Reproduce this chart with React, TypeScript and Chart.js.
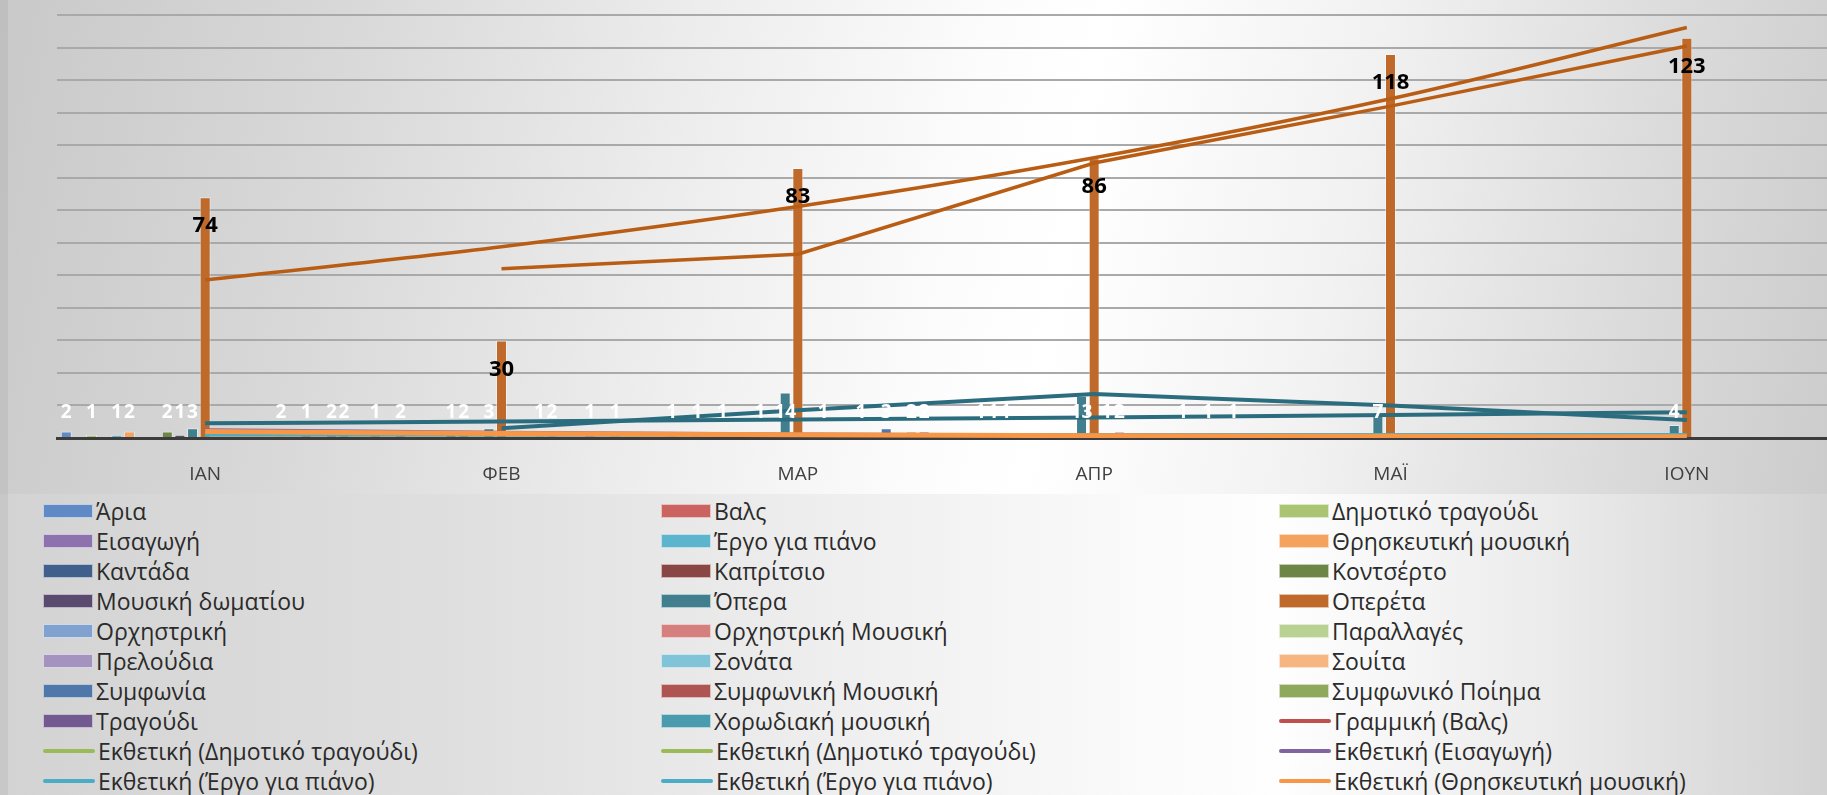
import React, { useEffect, useRef } from "react";
import { Chart, registerables } from "chart.js";

Chart.register(...registerables);

// ---- data -------------------------------------------------------------
const months = ["ΙΑΝ", "ΦΕΒ", "ΜΑΡ", "ΑΠΡ", "ΜΑΪ", "ΙΟΥΝ"];

// performances per genre and month (null = none)
const aria = [2, null, null, null, null, null];
const vals = [null, 1, 1, null, null, null];
const dimotiko = [1, null, null, 1, null, null];
const eisagogi = [null, 2, 1, 1, null, null];
const ergoPiano = [1, null, null, 1, null, null];
const thriskeftiki = [2, null, 1, null, null, null];
const kantada = [null, null, null, null, null, null];
const kapritsio = [null, 1, null, null, null, null];
const kontserto = [2, 2, 1, null, null, null];
const mousikiDomatiou = [1, null, null, null, null, null];
const opera = [3, 3, 14, 13, 7, 4];
const opereta = [74, 30, 83, 86, 118, 123];
const orchistriki = [null, null, null, 1, null, null];
const orchistrikiMousiki = [null, null, 1, 2, null, null];
const parallages = [null, 1, null, null, null, null];
const preloudia = [null, 2, null, null, null, null];
const sonata = [null, null, 1, null, null, null];
const souita = [2, null, null, null, null, null];
const symfonia = [null, 1, 3, 1, null, null];
const symfonikiMousiki = [1, null, null, null, null, null];
const symfonikoPoiima = [null, 1, 2, 1, null, null];
const tragoudi = [2, null, 2, null, null, null];
const chorodiaki = [2, null, null, 1, null, null];

type Num = number | null;

const genres: { name: string; color: string; data: Num[] }[] = [
  { name: "Άρια", color: "#5f8ac6", data: aria },
  { name: "Βαλς", color: "#cb6461", data: vals },
  { name: "Δημοτικό τραγούδι", color: "#a9c574", data: dimotiko },
  { name: "Εισαγωγή", color: "#8d72ae", data: eisagogi },
  { name: "Έργο για πιάνο", color: "#5cb4cd", data: ergoPiano },
  { name: "Θρησκευτική μουσική", color: "#f6a25f", data: thriskeftiki },
  { name: "Καντάδα", color: "#405f8a", data: kantada },
  { name: "Καπρίτσιο", color: "#8a4645", data: kapritsio },
  { name: "Κοντσέρτο", color: "#6e8548", data: kontserto },
  { name: "Μουσική δωματίου", color: "#5b4a6f", data: mousikiDomatiou },
  { name: "Όπερα", color: "#417f8e", data: opera },
  { name: "Οπερέτα", color: "#bf6a2a", data: opereta },
  { name: "Ορχηστρική", color: "#81a2cf", data: orchistriki },
  { name: "Ορχηστρική Μουσική", color: "#d5807e", data: orchistrikiMousiki },
  { name: "Παραλλαγές", color: "#b9d293", data: parallages },
  { name: "Πρελούδια", color: "#a492bf", data: preloudia },
  { name: "Σονάτα", color: "#82c4d7", data: sonata },
  { name: "Σουίτα", color: "#f7b582", data: souita },
  { name: "Συμφωνία", color: "#4f77a9", data: symfonia },
  { name: "Συμφωνική Μουσική", color: "#ae5453", data: symfonikiMousiki },
  { name: "Συμφωνικό Ποίημα", color: "#8fa95c", data: symfonikoPoiima },
  { name: "Τραγούδι", color: "#725a90", data: tragoudi },
  { name: "Χορωδιακή μουσική", color: "#4b9bae", data: chorodiaki },
];

type TrendKind = "linear" | "exp" | "ma";
const trends: { label: string; source: string; kind: TrendKind; color: string; width: number; legend: boolean }[] = [
  { label: "Γραμμική (Βαλς)", source: "Βαλς", kind: "linear", color: "#c0504d", width: 3, legend: true },
  { label: "Εκθετική (Δημοτικό τραγούδι)", source: "Δημοτικό τραγούδι", kind: "exp", color: "#9bbb59", width: 3, legend: true },
  { label: "Εκθετική (Δημοτικό τραγούδι)", source: "Δημοτικό τραγούδι", kind: "exp", color: "#9bbb59", width: 3, legend: true },
  { label: "Εκθετική (Εισαγωγή)", source: "Εισαγωγή", kind: "exp", color: "#8064a2", width: 3, legend: true },
  { label: "Εκθετική (Έργο για πιάνο)", source: "Έργο για πιάνο", kind: "exp", color: "#4bacc6", width: 3, legend: true },
  { label: "Εκθετική (Έργο για πιάνο)", source: "Έργο για πιάνο", kind: "exp", color: "#4bacc6", width: 3, legend: true },
  { label: "Εκθετική (Θρησκευτική μουσική)", source: "Θρησκευτική μουσική", kind: "exp", color: "#f79646", width: 5, legend: true },
  { label: "Εκθετική (Όπερα)", source: "Όπερα", kind: "exp", color: "#2b6d7e", width: 4, legend: false },
  { label: "Κινητός μέσος όρος 2 περ. (Όπερα)", source: "Όπερα", kind: "ma", color: "#2b6d7e", width: 4, legend: false },
  { label: "Εκθετική (Οπερέτα)", source: "Οπερέτα", kind: "exp", color: "#b95d14", width: 3.5, legend: false },
  { label: "Κινητός μέσος όρος 2 περ. (Οπερέτα)", source: "Οπερέτα", kind: "ma", color: "#b95d14", width: 3.5, legend: false },
];

// ---- trendline fitting ------------------------------------------------
function fit(xs: number[], ys: number[]) {
  const n = xs.length;
  const mx = xs.reduce((a, b) => a + b, 0) / n;
  const my = ys.reduce((a, b) => a + b, 0) / n;
  let sxy = 0;
  let sxx = 0;
  for (let i = 0; i < n; i++) {
    sxy += (xs[i] - mx) * (ys[i] - my);
    sxx += (xs[i] - mx) * (xs[i] - mx);
  }
  const slope = sxx === 0 ? 0 : sxy / sxx;
  return { slope, intercept: my - slope * mx };
}

function trendValues(data: Num[], kind: TrendKind): Num[] {
  if (kind === "ma") {
    return data.map((v, i) => {
      const p = i > 0 ? data[i - 1] : null;
      return i > 0 && v != null && p != null ? (v + p) / 2 : null;
    });
  }
  const xs: number[] = [];
  const ys: number[] = [];
  data.forEach((v, i) => {
    if (v != null && (kind === "linear" || v > 0)) {
      xs.push(i + 1);
      ys.push(kind === "exp" ? Math.log(v) : v);
    }
  });
  if (xs.length < 2) return data.map(() => null);
  const { slope, intercept } = fit(xs, ys);
  return data.map((_, i) => {
    const t = intercept + slope * (i + 1);
    return kind === "exp" ? Math.exp(t) : t;
  });
}

// ---- value labels -----------------------------------------------------
const valueLabels = {
  id: "valueLabels",
  afterDatasetsDraw(chart: any) {
    const { ctx } = chart;
    const y0 = chart.scales.y.getPixelForValue(0);
    ctx.save();
    ctx.textAlign = "center";
    ctx.textBaseline = "middle";
    chart.data.datasets.forEach((ds: any, di: number) => {
      if (ds.type !== "bar") return;
      const meta = chart.getDatasetMeta(di);
      meta.data.forEach((el: any, j: number) => {
        const v = ds.data[j];
        if (v == null) return;
        const big = ds.label === "Οπερέτα";
        ctx.font = big ? "bold 22px 'Open Sans'" : "bold 19px 'Open Sans'";
        ctx.fillStyle = big ? "#000000" : "#ffffff";
        ctx.fillText(String(v), el.x, big ? el.y + 29 : y0 - 25);
      });
    });
    ctx.restore();
  },
};

const CHART_H = 494;
const FONT = "'Open Sans', 'Noto Sans', sans-serif";

export default function App() {
  const canvasRef = useRef<HTMLCanvasElement | null>(null);

  useEffect(() => {
    const canvas = canvasRef.current;
    if (!canvas) return;

    const barSets = genres.map((g) => ({
      type: "bar" as const,
      label: g.name,
      data: g.data,
      backgroundColor: g.color,
      borderColor: "rgba(255,255,255,0.45)",
      borderWidth: 1,
      categoryPercentage: 0.98,
      barPercentage: 0.87,
      order: 100,
    }));

    const lineSets = trends.map((t, i) => {
      const src = genres.find((g) => g.name === t.source)!;
      return {
        type: "line" as const,
        label: t.label,
        data: trendValues(src.data, t.kind),
        borderColor: t.color,
        backgroundColor: t.color,
        borderWidth: t.width,
        pointRadius: 0,
        fill: false,
        tension: 0,
        cubicInterpolationMode: t.kind === "exp" ? ("monotone" as const) : ("default" as const),
        order: 50 - i,
      };
    });

    const chart = new Chart(canvas, {
      type: "bar",
      data: { labels: months, datasets: [...barSets, ...lineSets] as any },
      options: {
        responsive: false,
        animation: false,
        layout: { padding: { left: 57, top: 15, right: 7, bottom: 0 } },
        plugins: { legend: { display: false }, tooltip: { enabled: false } },
        scales: {
          x: {
            offset: true,
            z: 1,
            grid: { display: false, drawTicks: false },
            border: { display: true, color: "#3c3c3c", width: 3 },
            ticks: { color: "#404040", font: { family: FONT, size: 19 }, padding: 25 },
            afterFit: (s: any) => {
              s.height = CHART_H - 438;
            },
          },
          y: {
            min: 0,
            max: 130,
            ticks: { stepSize: 10, display: false },
            grid: { color: "#a9a9a9", lineWidth: 2, drawTicks: false },
            border: { display: false },
          },
        },
      },
      plugins: [valueLabels],
    });
    return () => chart.destroy();
  }, []);

  const legendItems = [
    ...genres.map((g) => ({ label: g.name, color: g.color, line: false })),
    ...trends.filter((t) => t.legend).map((t) => ({ label: t.label, color: t.color, line: true })),
  ];
  const colX = [43, 661, 1279];

  return (
    <div
      style={{
        position: "fixed",
        left: 0,
        top: 0,
        width: 1827,
        height: 795,
        overflow: "hidden",
        fontFamily: FONT,
      }}
    >
      <div
        style={{
          position: "absolute",
          left: 0,
          top: 0,
          width: 1827,
          height: CHART_H,
          background:
            "linear-gradient(100deg, #c9c9c9 0%, #d8d8d8 18%, #eeeeee 38%, #fcfcfc 52%, #ffffff 58%, #f2f2f2 72%, #dbdbdb 88%, #cccccc 100%)",
        }}
      >
        <canvas
          ref={canvasRef}
          width={1842}
          height={CHART_H}
          style={{ position: "absolute", left: 0, top: 0, width: 1842, height: CHART_H }}
        />
      </div>
      <div
        style={{
          position: "absolute",
          left: 0,
          top: CHART_H,
          width: 1827,
          height: 795 - CHART_H,
          background:
            "linear-gradient(90deg, #d3d3d3 0%, #dfdfdf 25%, #eeeeee 45%, #fafafa 62%, #fefefe 70%, #ebebeb 85%, #d2d2d2 100%)",
        }}
      >
        {legendItems.map((it, i) => {
          const r = Math.floor(i / 3);
          const c = i % 3;
          return (
            <div
              key={i}
              style={{
                position: "absolute",
                left: colX[c],
                top: 511 + 30 * r - 15 - CHART_H,
                height: 30,
                display: "flex",
                alignItems: "center",
                whiteSpace: "nowrap",
              }}
            >
              {it.line ? (
                <div style={{ width: 52, height: 4, background: it.color, borderRadius: 2 }} />
              ) : (
                <div
                  style={{
                    width: 50,
                    height: 14,
                    background: it.color,
                    border: "1px solid rgba(255,255,255,0.6)",
                    boxSizing: "border-box",
                  }}
                />
              )}
              <span style={{ marginLeft: 3, fontSize: 23, color: "#2b2b2b", lineHeight: "30px" }}>
                {it.label}
              </span>
            </div>
          );
        })}
      </div>
      <div style={{ position: "absolute", left: 0, top: 0, width: 8, height: 795, background: "rgba(150,150,150,0.18)" }} />
    </div>
  );
}
